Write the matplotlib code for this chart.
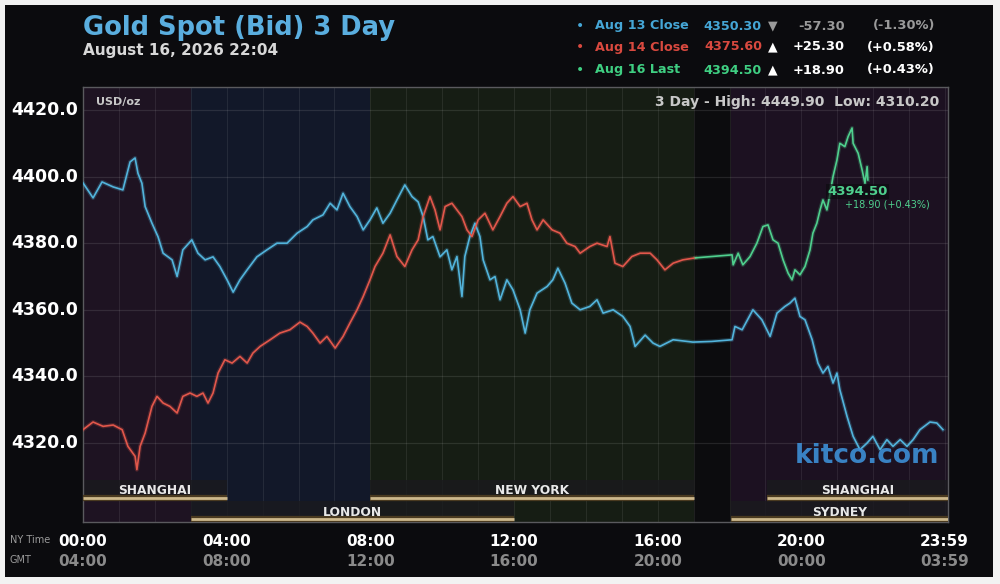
import matplotlib
matplotlib.use("Agg")
import matplotlib.pyplot as plt
from matplotlib.patches import Rectangle

# ---------------- data ----------------
blue_hours = [0.00, 0.28, 0.53, 0.84, 1.11, 1.31, 1.45, 1.53, 1.64, 1.73, 1.92, 2.09, 2.23, 2.48, 2.62,
              2.78, 3.03, 3.20, 3.40, 3.62, 3.81, 4.01, 4.18, 4.37, 4.57, 4.84, 5.12, 5.40, 5.68, 5.96,
              6.24, 6.40, 6.68, 6.88, 7.07, 7.24, 7.43, 7.63, 7.80, 7.99, 8.18, 8.35, 8.55, 8.74, 8.96,
              9.16, 9.33, 9.47, 9.60, 9.74, 9.94, 10.13, 10.27, 10.41, 10.55, 10.63, 10.77, 10.91, 11.05,
              11.14, 11.33, 11.47, 11.61, 11.80, 11.97, 12.17, 12.31, 12.44, 12.64, 12.92, 13.08, 13.22,
              13.42, 13.61, 13.84, 14.11, 14.31, 14.48, 14.76, 15.03, 15.23, 15.37, 15.65, 15.87, 16.06,
              16.43, 16.98, 17.50, 18.07, 18.15, 18.35, 18.65, 18.90, 19.13, 19.32, 19.54, 19.68, 19.82,
              19.96, 20.10, 20.30, 20.46, 20.60, 20.74, 20.88, 20.99, 21.07, 21.27, 21.44, 21.63, 21.83,
              21.99, 22.19, 22.38, 22.55, 22.75, 22.94, 23.11, 23.30, 23.58, 23.77, 23.94]
blue_values = [4398.1, 4393.6, 4398.4, 4396.9, 4396.0, 4404.4, 4405.6, 4401.0, 4398.0, 4391.0, 4386.0,
               4381.9, 4377.0, 4375.0, 4370.0, 4378.0, 4381.0, 4377.0, 4375.0, 4375.9, 4373.0, 4369.0,
               4365.3, 4369.0, 4372.0, 4375.9, 4378.0, 4380.0, 4380.0, 4383.0, 4385.0, 4387.0, 4388.5,
               4392.0, 4390.0, 4395.0, 4391.0, 4388.0, 4384.0, 4387.0, 4390.6, 4386.0, 4389.0, 4393.0,
               4397.5, 4394.0, 4392.4, 4388.0, 4381.0, 4382.0, 4375.9, 4378.0, 4372.0, 4376.0, 4364.0,
               4376.0, 4382.0, 4386.0, 4382.0, 4375.0, 4369.0, 4370.0, 4363.0, 4369.0, 4366.0, 4360.0,
               4353.0, 4360.0, 4365.0, 4367.0, 4369.0, 4372.5, 4368.0, 4362.0, 4360.0, 4361.0, 4363.0,
               4359.0, 4360.0, 4358.0, 4355.0, 4349.0, 4352.4, 4350.0, 4349.0, 4351.0, 4350.3, 4350.5,
               4351.0, 4355.0, 4354.0, 4360.0, 4357.0, 4352.0, 4359.0, 4361.0, 4362.0, 4363.5, 4358.0,
               4357.0, 4351.0, 4344.0, 4341.0, 4343.0, 4338.0, 4341.0, 4336.0, 4328.0, 4322.0, 4318.0,
               4320.0, 4322.0, 4318.0, 4321.0, 4319.0, 4321.0, 4319.0, 4321.0, 4324.0, 4326.3, 4326.0,
               4324.0]

red_hours = [0.00, 0.28, 0.56, 0.84, 1.09, 1.25, 1.45, 1.50, 1.59, 1.73, 1.92, 2.06, 2.23, 2.42, 2.62,
             2.78, 2.98, 3.17, 3.34, 3.48, 3.62, 3.76, 3.95, 4.15, 4.37, 4.57, 4.73, 4.93, 5.21, 5.48,
             5.76, 6.04, 6.24, 6.40, 6.60, 6.79, 7.02, 7.24, 7.43, 7.63, 7.80, 7.99, 8.13, 8.35, 8.55,
             8.74, 8.96, 9.16, 9.33, 9.47, 9.66, 9.80, 9.94, 10.08, 10.27, 10.41, 10.55, 10.69, 10.83,
             11.00, 11.19, 11.41, 11.61, 11.80, 11.97, 12.17, 12.36, 12.50, 12.64, 12.81, 13.06, 13.28,
             13.47, 13.70, 13.84, 14.11, 14.31, 14.59, 14.67, 14.81, 15.03, 15.28, 15.51, 15.79, 15.98,
             16.20, 16.43, 16.70, 17.05]
red_values = [4324.0, 4326.3, 4325.0, 4325.4, 4324.0, 4319.0, 4316.0, 4312.0, 4319.0, 4323.0, 4331.0,
              4334.0, 4332.0, 4331.0, 4329.0, 4334.0, 4335.0, 4334.0, 4335.0, 4332.0, 4335.0, 4341.0,
              4345.0, 4344.0, 4346.0, 4344.0, 4347.0, 4349.0, 4351.0, 4353.0, 4354.0, 4356.3, 4355.0,
              4353.0, 4350.0, 4352.0, 4348.5, 4352.0, 4356.0, 4360.0, 4364.0, 4369.0, 4373.0, 4377.0,
              4382.5, 4376.0, 4373.0, 4378.0, 4381.0, 4388.0, 4394.0, 4390.0, 4384.0, 4391.0, 4392.0,
              4390.0, 4388.0, 4384.0, 4382.0, 4387.0, 4389.0, 4384.0, 4388.0, 4392.0, 4394.0, 4391.0,
              4392.0, 4387.0, 4384.0, 4387.0, 4384.0, 4383.0, 4380.0, 4379.0, 4377.0, 4379.0, 4380.0,
              4379.0, 4382.0, 4374.0, 4373.0, 4376.0, 4377.0, 4377.0, 4375.0, 4372.0, 4374.0, 4375.0,
              4375.6]

green_hours = [17.05, 18.07, 18.10, 18.24, 18.37, 18.57, 18.76, 18.93, 19.07, 19.21, 19.35, 19.49, 19.63,
               19.74, 19.82, 19.96, 20.10, 20.24, 20.32, 20.43, 20.52, 20.60, 20.71, 20.80, 20.88, 20.99,
               21.07, 21.21, 21.30, 21.41, 21.44, 21.58, 21.69, 21.77, 21.83, 21.85]
green_values = [4375.6, 4376.5, 4373.5, 4377.0, 4373.5, 4376.0, 4380.0, 4385.0, 4385.5, 4381.0, 4380.0,
                4375.0, 4371.0, 4369.0, 4372.0, 4370.5, 4373.0, 4378.0, 4383.0, 4386.0, 4390.0, 4393.0,
                4390.0, 4395.0, 4400.0, 4405.0, 4410.0, 4409.0, 4412.0, 4414.6, 4410.0, 4407.0, 4402.0,
                4398.0, 4403.0, 4399.0]

y_ticks = [4320, 4340, 4360, 4380, 4400, 4420]
x_ticks = [0, 4, 8, 12, 16, 20, 23.983]
ny_labels = ["00:00", "04:00", "08:00", "12:00", "16:00", "20:00", "23:59"]
gmt_labels = ["04:00", "08:00", "12:00", "16:00", "20:00", "00:00", "03:59"]

# sessions: name, start hour, end hour, row (0 = upper, 1 = lower)
sessions = [("SHANGHAI", 0, 4, 0), ("LONDON", 3, 12, 1), ("NEW YORK", 8, 17, 0),
            ("SYDNEY", 18.05, 24.1, 1), ("SHANGHAI", 19.05, 24.1, 0)]
# background shading: start, end, colour
shading = [(0, 3, "#1e1322"), (3, 8, "#121829"), (8, 17, "#161d14"),
           (17, 18.05, "#0c0c0e"), (18.05, 24.1, "#1c1121")]

legend_rows = [("Aug 13 Close", "4350.30", "▼", "-57.30", "(-1.30%)", "#45a6d6", "#9a9a9a"),
               ("Aug 14 Close", "4375.60", "▲", "+25.30", "(+0.58%)", "#d9493f", "#ffffff"),
               ("Aug 16 Last", "4394.50", "▲", "+18.90", "(+0.43%)", "#3fcf82", "#ffffff")]

BLUE = "#52b4dc"
RED = "#e2574b"
GREEN = "#4fd08e"

# ---------------- figure ----------------
W, H = 1000, 584
fig = plt.figure(figsize=(W / 100, H / 100), dpi=100, facecolor="#f2f2f2")


def fx(px):
    return px / W


def fy(py):
    return 1 - py / H


# black panel
bg = fig.add_axes([fx(5), fy(577), fx(993 - 5), (577 - 5) / H])
bg.set_facecolor("#0b0b0e")
bg.set_xticks([]); bg.set_yticks([])
for s in bg.spines.values():
    s.set_visible(False)

# main plot axes (pixel frame 83..948 x 87..522)
L, R, T, B = 83, 948, 87, 522
ax = fig.add_axes([fx(L), fy(B), (R - L) / W, (B - T) / H])
px_per_unit = (443 - 110) / 100.0
y_top = 4420 + (110 - T) / px_per_unit
y_bot = 4420 - (B - 110) / px_per_unit
x_max = (R - L) / 35.92
ax.set_xlim(0, x_max)
ax.set_ylim(y_bot, y_top)
ax.set_facecolor("#0b0b0e")

for a, b, c in shading:
    ax.axvspan(a, b, color=c, zorder=0, lw=0)

# grid
for h in range(1, 25):
    ax.axvline(h, color="#ffffff", alpha=0.08, lw=0.8, zorder=1)
for v in y_ticks:
    ax.axhline(v, color="#ffffff", alpha=0.10, lw=0.9, zorder=1)

# session band
band_top_val = 4420 - (480 - 110) / px_per_unit
row_y = {0: 4420 - (497.5 - 110) / px_per_unit, 1: 4420 - (518.5 - 110) / px_per_unit}
lab_y = {0: 4420 - (491 - 110) / px_per_unit, 1: 4420 - (512 - 110) / px_per_unit}
for name, s0, s1, row in sessions:
    top = band_top_val if row == 0 else 4420 - (501 - 110) / px_per_unit
    bot = row_y[row]
    ax.add_patch(Rectangle((s0, bot), s1 - s0, top - bot, facecolor="#1a1a1e",
                           edgecolor="none", alpha=0.8, zorder=2))
    ax.plot([s0, s1], [bot, bot], color="#4a3a20", lw=4.5, zorder=3, solid_capstyle="butt")
    ax.plot([s0, s1], [bot, bot], color="#cdb88c", lw=2.0, zorder=4, solid_capstyle="butt")
    ax.text((s0 + min(s1, x_max)) / 2, lab_y[row], name, color="#e8e8e8", fontsize=8.8,
            fontweight="bold", ha="center", va="center", zorder=5)

# price lines
for xs, ys, col in [(blue_hours, blue_values, BLUE), (red_hours, red_values, RED),
                    (green_hours, green_values, GREEN)]:
    ax.plot(xs, ys, color=col, lw=3.0, alpha=0.22, zorder=6, solid_joinstyle="round")
    ax.plot(xs, ys, color=col, lw=1.2, zorder=7, solid_joinstyle="round")

ax.set_xticks([]); ax.set_yticks([])
for s in ax.spines.values():
    s.set_color("#5a5a5e")
    s.set_linewidth(1.0)

# in-plot texts
ax.text(0.015, 0.965, "USD/oz", transform=ax.transAxes, color="#c8c8c8", fontsize=8,
        fontweight="bold", ha="left", va="center", zorder=8)
ax.text(0.99, 0.965, "3 Day - High: 4449.90  Low: 4310.20", transform=ax.transAxes,
        color="#c8c8c8", fontsize=10, fontweight="bold", ha="right", va="center", zorder=8)
ax.text(20.72, 4395.5, "4394.50", color=GREEN, fontsize=9.5, fontweight="bold", ha="left",
        va="center", zorder=9,
        bbox=dict(boxstyle="square,pad=0.1", facecolor="#0b0b0e", edgecolor="none", alpha=0.6))
ax.text(21.2, 4391.5, "+18.90 (+0.43%)", color=GREEN, fontsize=7, ha="left", va="center",
        zorder=9)
ax.text(23.85, 4316.0, "kitco.com", color="#3d8fd6", fontsize=19, fontweight="bold",
        ha="right", va="center", alpha=0.9, zorder=9)

# y tick labels (outside left)
for v in y_ticks:
    fig.text(fx(78), fy(110 + (4420 - v) * px_per_unit), f"{v:.1f}", color="#ffffff",
             fontsize=12.5, fontweight="bold", ha="right", va="center")

# x tick labels
for h, ny, g in zip(x_ticks, ny_labels, gmt_labels):
    xp = L + h * 35.92
    fig.text(fx(xp), fy(542), ny, color="#ffffff", fontsize=11, fontweight="bold",
             ha="center", va="center")
    fig.text(fx(xp), fy(562), g, color="#8a8a8a", fontsize=11, fontweight="bold",
             ha="center", va="center")
fig.text(fx(10), fy(540), "NY Time", color="#9a9a9a", fontsize=7, ha="left", va="center")
fig.text(fx(10), fy(560), "GMT", color="#9a9a9a", fontsize=7, ha="left", va="center")

# title
fig.text(fx(83), fy(28), "Gold Spot (Bid) 3 Day", color="#5aaedf", fontsize=18.5,
         fontweight="bold", ha="left", va="center")
fig.text(fx(83), fy(50), "August 16, 2026 22:04", color="#d8d8d8", fontsize=11,
         fontweight="bold", ha="left", va="center")

# legend
row_py = [26, 47, 70]
for (lab, val, tri, chg, pct, col, ccol), py in zip(legend_rows, row_py):
    fig.text(fx(580), fy(py), "•", color=col, fontsize=10, ha="center", va="center")
    fig.text(fx(595), fy(py), lab, color=col, fontsize=9.2, fontweight="bold", ha="left",
             va="center")
    fig.text(fx(762), fy(py), val, color=col, fontsize=9.2, fontweight="bold", ha="right",
             va="center")
    fig.text(fx(773), fy(py), tri, color=ccol, fontsize=9, ha="center", va="center",
             family=["DejaVu Sans"])
    fig.text(fx(845), fy(py), chg, color=ccol, fontsize=9.4, fontweight="bold", ha="right",
             va="center")
    fig.text(fx(935), fy(py), pct, color=ccol, fontsize=9.4, fontweight="bold", ha="right",
             va="center")

fig.savefig("out.png", dpi=100, facecolor=fig.get_facecolor())
